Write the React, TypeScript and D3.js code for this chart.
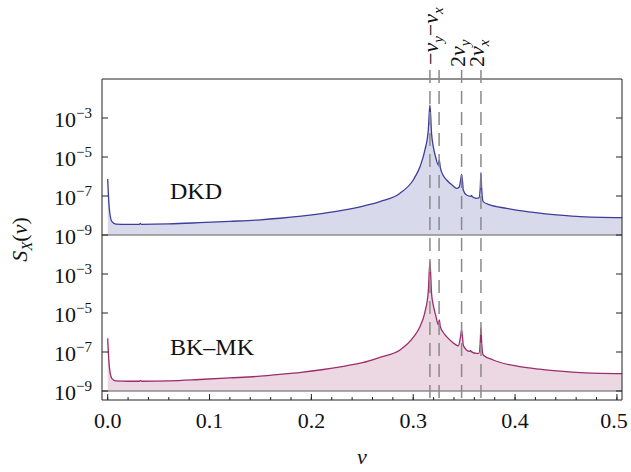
import React from "react";
import * as d3 from "d3";

// ---------- data ----------
// frequency ν and log10 of S_X(ν)
const dkdNu = [0.0, 0.0015, 0.004, 0.008, 0.02, 0.031, 0.032, 0.033, 0.06, 0.09, 0.12, 0.15, 0.169, 0.19, 0.21, 0.23, 0.25, 0.2673, 0.287, 0.3, 0.3066, 0.3115, 0.3148, 0.3164, 0.318, 0.3197, 0.322, 0.3246, 0.3256, 0.3266, 0.3295, 0.3328, 0.3385, 0.3426, 0.345, 0.3465, 0.3475, 0.3485, 0.3491, 0.3524, 0.3565, 0.3573, 0.358, 0.3622, 0.3645, 0.3658, 0.3665, 0.3672, 0.3687, 0.3753, 0.3917, 0.4048, 0.424, 0.444, 0.464, 0.485, 0.505];
const dkdLog10 = [-6.13, -7.6, -8.3, -8.44, -8.45, -8.45, -8.41, -8.45, -8.43, -8.37, -8.3, -8.22, -8.14, -8.03, -7.9, -7.74, -7.53, -7.29, -6.86, -6.18, -5.5, -4.64, -3.6, -2.33, -3.8, -4.47, -5.0, -5.41, -5.15, -5.55, -5.95, -6.18, -6.45, -6.61, -6.55, -6.2, -5.89, -6.3, -6.69, -6.95, -7.02, -6.97, -7.04, -7.12, -7.1, -6.6, -5.8, -6.6, -7.29, -7.46, -7.63, -7.75, -7.88, -7.98, -8.06, -8.1, -8.11];

const bkNu = [0.0, 0.0015, 0.004, 0.008, 0.02, 0.031, 0.0323, 0.0335, 0.06, 0.09, 0.12, 0.15, 0.169, 0.19, 0.21, 0.23, 0.25, 0.2673, 0.287, 0.3, 0.3066, 0.3115, 0.3148, 0.3164, 0.318, 0.3197, 0.322, 0.3246, 0.3256, 0.3266, 0.3295, 0.3328, 0.3385, 0.3442, 0.3465, 0.3475, 0.3485, 0.3491, 0.3524, 0.3555, 0.3563, 0.357, 0.3622, 0.3645, 0.3658, 0.3665, 0.3672, 0.3687, 0.3785, 0.4048, 0.424, 0.444, 0.464, 0.485, 0.505];
const bkLog10 = [-6.3, -7.7, -8.35, -8.48, -8.5, -8.5, -8.46, -8.5, -8.48, -8.41, -8.33, -8.24, -8.15, -8.04, -7.91, -7.75, -7.55, -7.27, -6.9, -6.25, -5.7, -4.95, -3.9, -2.35, -4.0, -4.6, -5.1, -5.6, -5.36, -5.7, -6.0, -6.21, -6.5, -6.69, -6.2, -5.87, -6.3, -6.64, -6.9, -6.97, -6.92, -6.98, -7.07, -7.07, -6.5, -5.73, -6.5, -7.15, -7.41, -7.75, -7.88, -7.98, -8.06, -8.1, -8.11];

const xTicks = [0.0, 0.1, 0.2, 0.3, 0.4, 0.5];
const xTickLabels = ["0.0", "0.1", "0.2", "0.3", "0.4", "0.5"];
const yTickExps = [-3, -5, -7, -9];
const markerNu = [0.3164, 0.3254, 0.3475, 0.3665];
const panelNames = ["DKD", "BK\u2013MK"];

// ---------- layout ----------
const W = 631, H = 472;
const X0 = 102, X1 = 622, YT = 79, YS = 235, YB = 391, YF = 400;
const FONT = "'Liberation Serif', 'Times New Roman', serif";

const x = d3.scaleLinear().domain([-0.0056, 0.505]).range([X0, X1]);
const yTop = d3.scaleLog().domain([1e-9, 1e-1]).range([YS, YT]);
const yBot = d3.scaleLog().domain([1e-9, 1e-1]).range([YB, YS]);

type Pt = { nu: number; v: number };
const mk = (nu: number[], lg: number[]): Pt[] => nu.map((n, i) => ({ nu: n, v: Math.pow(10, lg[i]) }));

const panels = [
  { data: mk(dkdNu, dkdLog10), y: yTop, stroke: "#3d3d9c", fill: "#d9d9ec", name: panelNames[0], lx: 170, ly: 199 },
  { data: mk(bkNu, bkLog10), y: yBot, stroke: "#9c2c6c", fill: "#ecd8e2", name: panelNames[1], lx: 170, ly: 355 },
];

function TickLabel({ y, e }: { y: number; e: number }) {
  return (
    <text x={92} y={y + 9} textAnchor="end" fontFamily={FONT} fontSize={22} fill="#111">
      10<tspan dy={-9} fontSize={15}>{"\u2212" + Math.abs(e)}</tspan>
    </text>
  );
}

export default function App() {
  const minor = d3.range(0, 0.5001, 0.02);
  return (
    <svg width={W} height={H} style={{ position: "absolute", left: 0, top: 0, background: "#fff" }}>
      {panels.map((p, i) => {
        const area = d3.area<Pt>().x(d => x(d.nu)).y0(p.y(1e-9)).y1(d => p.y(d.v)).curve(d3.curveMonotoneX);
        const line = d3.line<Pt>().x(d => x(d.nu)).y(d => p.y(d.v)).curve(d3.curveMonotoneX);
        return (
          <g key={i}>
            <path d={area(p.data) || ""} fill={p.fill} />
            <line x1={X0} x2={X1} y1={p.y(1e-9)} y2={p.y(1e-9)} stroke="#8c8c8c" strokeWidth={1.3} />
            <path d={line(p.data) || ""} fill="none" stroke={p.stroke} strokeWidth={1.3} />
            {yTickExps.map(e => (
              <g key={e}>
                <line x1={X0} x2={X0 + 6} y1={p.y(Math.pow(10, e))} y2={p.y(Math.pow(10, e))} stroke="#222" />
                <line x1={X1} x2={X1 - 6} y1={p.y(Math.pow(10, e))} y2={p.y(Math.pow(10, e))} stroke="#222" />
                <TickLabel y={p.y(Math.pow(10, e))} e={e} />
              </g>
            ))}
            <text x={p.lx} y={p.ly} fontFamily={FONT} fontSize={24} fill="#111">{p.name}</text>
          </g>
        );
      })}
      {/* frame */}
      <line x1={X0} x2={X0} y1={YT} y2={YF} stroke="#222" />
      <line x1={X0} x2={X1} y1={YF} y2={YF} stroke="#222" />
      <line x1={X0} x2={X1} y1={YT} y2={YT} stroke="#222" />
      <line x1={X1} x2={X1} y1={YT} y2={YF} stroke="#222" />
      {/* x ticks */}
      {minor.map((t, i) => (
        <line key={i} x1={x(t)} x2={x(t)} y1={YF} y2={YF - 3} stroke="#222" />
      ))}
      {xTicks.map((t, i) => (
        <g key={i}>
          <line x1={x(t)} x2={x(t)} y1={YF} y2={YF - 6} stroke="#222" />
          <text x={Math.min(x(t), 614)} y={428} textAnchor="middle" fontFamily={FONT} fontSize={22} fill="#111">{xTickLabels[i]}</text>
        </g>
      ))}
      {/* marker dashed lines */}
      {markerNu.map((m, i) => (
        <line key={i} x1={x(m)} x2={x(m)} y1={70} y2={404} stroke="#8a8a8a" strokeWidth={1.5} strokeDasharray="13,8" />
      ))}
      <text transform={`translate(${x(markerNu[1]) - 1},65) rotate(-90)`} fontFamily={FONT} fontSize={22} fill="#111">
        {"\u2212"}<tspan fontStyle="italic">ν</tspan><tspan fontStyle="italic" fontSize={15} dy={5}>y</tspan>
        <tspan dy={-5}>{"\u2212"}</tspan><tspan fontStyle="italic">ν</tspan><tspan fontStyle="italic" fontSize={15} dy={5}>x</tspan>
      </text>
      <text transform={`translate(${x(markerNu[2]) + 3},67) rotate(-90)`} fontFamily={FONT} fontSize={22} fill="#111">
        2<tspan fontStyle="italic">ν</tspan><tspan fontStyle="italic" fontSize={15} dy={5}>y</tspan>
      </text>
      <text transform={`translate(${x(markerNu[3]) + 3},67) rotate(-90)`} fontFamily={FONT} fontSize={22} fill="#111">
        2<tspan fontStyle="italic">ν</tspan><tspan fontStyle="italic" fontSize={15} dy={5}>x</tspan>
      </text>
      {/* axis titles */}
      <text transform={`translate(27,${(YT + YF) / 2}) rotate(-90)`} textAnchor="middle" fontFamily={FONT} fontSize={22} fill="#111">
        <tspan fontStyle="italic">S</tspan><tspan fontStyle="italic" fontSize={15} dy={5}>X</tspan><tspan dy={-5}>(</tspan><tspan fontStyle="italic">ν</tspan>)
      </text>
      <text x={(X0 + X1) / 2} y={464} textAnchor="middle" fontFamily={FONT} fontSize={22} fontStyle="italic" fill="#111">ν</text>
    </svg>
  );
}
